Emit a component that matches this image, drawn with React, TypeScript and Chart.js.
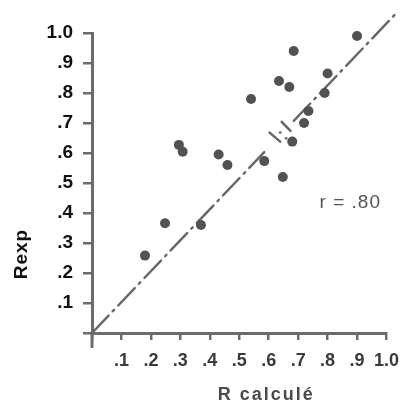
import { useEffect, useRef } from 'react';
import { Chart, registerables } from 'chart.js';

Chart.register(...registerables);

// Data
const R_CALC = [0.90, 0.685, 0.80, 0.635, 0.67, 0.79, 0.54, 0.735, 0.72, 0.295, 0.308, 0.43, 0.46, 0.68, 0.585, 0.648, 0.248, 0.18, 0.37];
const R_EXP = [0.99, 0.94, 0.865, 0.84, 0.82, 0.80, 0.78, 0.74, 0.70, 0.627, 0.604, 0.595, 0.56, 0.638, 0.573, 0.52, 0.366, 0.258, 0.36];

// Diagonal reference line (broken around the overlap marker)
const DIAG_LOW_X = [0, 0.585];
const DIAG_LOW_Y = [0, 0.603];
const DIAG_HIGH_X = [0.685, 1.035];
const DIAG_HIGH_Y = [0.707, 1.068];

// Break marker strokes and dots
const BREAK1_X = [0.603, 0.639];
const BREAK1_Y = [0.668, 0.638];
const BREAK2_X = [0.644, 0.674];
const BREAK2_Y = [0.704, 0.674];
const BREAK_DOTS_X = [0.639, 0.659];
const BREAK_DOTS_Y = [0.668, 0.649];

const X_TICKS = [0, 0.1, 0.2, 0.3, 0.4, 0.5, 0.6, 0.7, 0.8, 0.9, 1.0];
const X_TICK_LABELS = ['', '.1', '.2', '.3', '.4', '.5', '.6', '.7', '.8', '.9', '1.0'];
const Y_TICKS = [0, 0.1, 0.2, 0.3, 0.4, 0.5, 0.6, 0.7, 0.8, 0.9, 1.0];
const Y_TICK_LABELS = ['', '.1', '.2', '.3', '.4', '.5', '.6', '.7', '.8', '.9', '1.0'];

const X_TITLE = 'R calculé';
const Y_TITLE = 'Rexp';
const R_TEXT = 'r = .80';
const R_POS = { x: 0.877, y: 0.417 };

const AXIS_COLOR = '#6c6c6c';
const POINT_COLOR = '#525252';
const LINE_COLOR = '#666666';
const FONT = '"Liberation Sans", Arial, sans-serif';

const zip = (xs: number[], ys: number[]) => xs.map((x, i) => ({ x, y: ys[i] }));

const decorPlugin = {
  id: 'decor',
  afterDraw(chart: any) {
    const { ctx, scales } = chart;
    const xs = scales.x;
    const ys = scales.y;
    const ox = xs.getPixelForValue(0);
    const oy = ys.getPixelForValue(0);
    ctx.save();
    // y axis runs a little below the origin
    ctx.strokeStyle = AXIS_COLOR;
    ctx.lineWidth = 3;
    ctx.beginPath();
    ctx.moveTo(ox, oy);
    ctx.lineTo(ox, oy + 15);
    ctx.stroke();

    // x axis title
    ctx.fillStyle = '#4a4a4a';
    ctx.font = `bold 18px ${FONT}`;
    (ctx as any).letterSpacing = '2px';
    ctx.textAlign = 'center';
    ctx.textBaseline = 'alphabetic';
    ctx.fillText(X_TITLE, (chart.chartArea.left + chart.chartArea.right) / 2 + 27, chart.chartArea.bottom + 67);

    // r annotation
    ctx.fillStyle = '#555555';
    ctx.font = `19px ${FONT}`;
    (ctx as any).letterSpacing = '1px';
    ctx.fillText(R_TEXT, xs.getPixelForValue(R_POS.x), ys.getPixelForValue(R_POS.y));

    // y axis title (rotated)
    ctx.fillStyle = '#111111';
    ctx.font = `bold 19px ${FONT}`;
    (ctx as any).letterSpacing = '1px';
    ctx.translate(27, ys.getPixelForValue(0.263));
    ctx.rotate(-Math.PI / 2);
    ctx.fillText(Y_TITLE, 0, 0);
    ctx.restore();
  },
};

export default function App() {
  const ref = useRef<HTMLCanvasElement>(null);

  useEffect(() => {
    document.body.style.margin = '0';
    const canvas = ref.current!;
    const lineDs = (data: { x: number; y: number }[], dash: number[], width: number) => ({
      type: 'scatter' as const,
      data,
      showLine: true,
      borderColor: LINE_COLOR,
      borderWidth: width,
      borderDash: dash,
      pointRadius: 0,
      clip: false as any,
      borderCapStyle: 'round' as const,
    });

    const chart = new Chart(canvas, {
      type: 'scatter',
      data: {
        datasets: [
          {
            data: zip(R_CALC, R_EXP),
            backgroundColor: POINT_COLOR,
            borderWidth: 0,
            pointRadius: 5,
            clip: false as any,
          },
          {
            data: zip(BREAK_DOTS_X, BREAK_DOTS_Y),
            backgroundColor: LINE_COLOR,
            borderWidth: 0,
            pointRadius: 1.4,
            clip: false as any,
          },
          lineDs(zip(BREAK1_X, BREAK1_Y), [], 2.5),
          lineDs(zip(BREAK2_X, BREAK2_Y), [], 2.5),
          lineDs(zip(DIAG_LOW_X, DIAG_LOW_Y), [24, 6, 2, 6], 2.4),
          lineDs(zip(DIAG_HIGH_X, DIAG_HIGH_Y), [24, 6, 2, 6], 2.4),
        ],
      },
      options: {
        responsive: false,
        devicePixelRatio: 1,
        animation: false,
        events: [],
        layout: { padding: { left: 0, top: 33, right: 17, bottom: 0 } },
        plugins: { legend: { display: false }, tooltip: { enabled: false } },
        scales: {
          x: {
            type: 'linear',
            min: 0,
            max: 1,
            afterBuildTicks: (s: any) => {
              s.ticks = X_TICKS.map((v) => ({ value: v }));
            },
            afterFit: (s: any) => {
              s.height = 73;
            },
            ticks: {
              autoSkip: false,
              maxRotation: 0,
              padding: 10,
              color: '#3a3a3a',
              font: { family: FONT, size: 18, weight: 'bold' },
              callback: (_v: any, i: number) => X_TICK_LABELS[i],
            },
            grid: {
              drawOnChartArea: false,
              drawTicks: true,
              tickLength: 7,
              color: AXIS_COLOR,
              lineWidth: 2.5,
            },
            border: { display: true, color: AXIS_COLOR, width: 3 },
          },
          y: {
            type: 'linear',
            min: 0,
            max: 1,
            afterBuildTicks: (s: any) => {
              s.ticks = Y_TICKS.map((v) => ({ value: v }));
            },
            afterFit: (s: any) => {
              s.width = 92;
            },
            ticks: {
              autoSkip: false,
              padding: 10,
              color: '#111111',
              font: { family: FONT, size: 19, weight: 'bold' },
              callback: (_v: any, i: number) => Y_TICK_LABELS[i],
            },
            grid: {
              drawOnChartArea: false,
              drawTicks: true,
              tickLength: 9,
              color: AXIS_COLOR,
              lineWidth: 2.5,
            },
            border: { display: true, color: AXIS_COLOR, width: 3 },
          },
        },
      },
      plugins: [decorPlugin],
    } as any);

    return () => chart.destroy();
  }, []);

  return (
    <div style={{ width: 409, height: 406, background: '#fff' }}>
      <canvas ref={ref} width={409} height={406} style={{ display: 'block', width: 409, height: 406 }} />
    </div>
  );
}
